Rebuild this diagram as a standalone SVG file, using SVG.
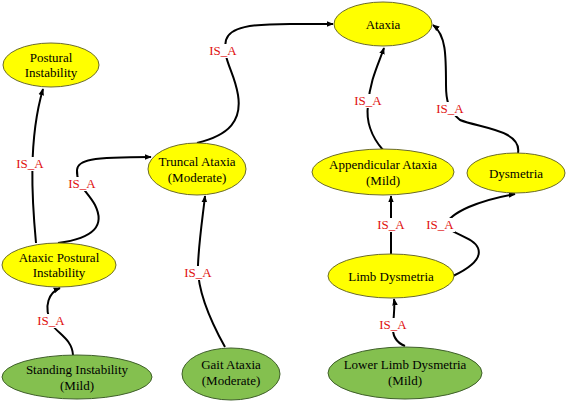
<svg xmlns="http://www.w3.org/2000/svg" width="567" height="401" viewBox="0 0 567 401">
<defs>
<marker id="arr" viewBox="0 0 10 10" refX="9" refY="5" markerWidth="7" markerHeight="7" orient="auto" markerUnits="userSpaceOnUse">
<path d="M0,1 L10,5 L0,9 z" fill="#000"/>
</marker>
<style>
.y{fill:#ffff00;stroke:#6b6b2a;stroke-width:1}
.g{fill:#84c04f;stroke:#3f5f2a;stroke-width:1}
text{font-family:"Liberation Serif","DejaVu Serif","Times New Roman",serif;font-size:13px;text-anchor:middle}
.t{fill:#000}
.e{fill:none;stroke:#000;stroke-width:2;marker-end:url(#arr)}
.l{fill:#e01010}
.b{fill:#fff}
</style>
</defs>
<rect width="567" height="401" fill="#fff"/>
<g id="connectors">
<path class="e" d="M36,243 C32,200 28,140 43,89"/>
<path class="e" d="M58,243 C95,238 105,225 95,205 C88,192 76,185 77,170 C78,160 90,157 151,157"/>
<path class="e" d="M197,143 C230,135 242,120 238,95 C234,70 222,60 226,40 C230,27 250,24 290,24 L333,24"/>
<path class="e" d="M225,347 C210,320 197,290 198,265 C199,240 203,215 205,196"/>
<path class="e" d="M383,150 C370,135 366,120 368,105 C370,80 378,65 384,48"/>
<path class="e" d="M518,153 C522,130 480,128 460,120 C448,110 446,100 446,85 C446,55 446,35 433,25"/>
<path class="e" d="M391,254 L391,196"/>
<path class="e" d="M453,276 C470,268 482,258 478,248 C474,238 455,235 445,226 C450,212 480,200 515,194"/>
<path class="e" d="M73,355 C72,340 60,335 52,325 C42,305 50,292 60,288"/>
<path class="e" d="M405,346 C395,342 392,335 393,325 C394,315 395,305 394,299"/>
<rect class="b" x="15" y="157" width="30" height="14"/><text class="l" x="30" y="168">IS_A</text>
<rect class="b" x="67" y="177" width="30" height="14"/><text class="l" x="82" y="188">IS_A</text>
<rect class="b" x="208" y="44" width="30" height="14"/><text class="l" x="223" y="55">IS_A</text>
<rect class="b" x="183" y="266" width="30" height="14"/><text class="l" x="198" y="277">IS_A</text>
<rect class="b" x="353" y="94" width="30" height="14"/><text class="l" x="368" y="105">IS_A</text>
<rect class="b" x="435" y="102" width="30" height="14"/><text class="l" x="450" y="113">IS_A</text>
<rect class="b" x="376" y="218" width="30" height="14"/><text class="l" x="391" y="229">IS_A</text>
<rect class="b" x="425" y="218" width="30" height="14"/><text class="l" x="440" y="229">IS_A</text>
<rect class="b" x="36" y="314" width="30" height="14"/><text class="l" x="51" y="325">IS_A</text>
<rect class="b" x="378" y="318" width="30" height="14"/><text class="l" x="393" y="329">IS_A</text>
</g>
<g id="ataxia"><ellipse class="y" cx="383" cy="24" rx="49" ry="22"/><text class="t" x="383" y="29">Ataxia</text></g>
<g id="postural-instability"><ellipse class="y" cx="51" cy="65" rx="48" ry="22"/><text class="t" x="51" y="62">Postural</text><text class="t" x="51" y="77">Instability</text></g>
<g id="truncal-ataxia"><ellipse class="y" cx="197" cy="169" rx="49" ry="26"/><text class="t" x="197" y="166">Truncal Ataxia</text><text class="t" x="197" y="182">(Moderate)</text></g>
<g id="appendicular-ataxia"><ellipse class="y" cx="383" cy="172" rx="71" ry="23"/><text class="t" x="383" y="169">Appendicular Ataxia</text><text class="t" x="383" y="185">(Mild)</text></g>
<g id="dysmetria"><ellipse class="y" cx="516" cy="173" rx="49" ry="20"/><text class="t" x="516" y="178">Dysmetria</text></g>
<g id="ataxic-postural-instability"><ellipse class="y" cx="59" cy="265" rx="57" ry="22"/><text class="t" x="59" y="262">Ataxic Postural</text><text class="t" x="59" y="277">Instability</text></g>
<g id="limb-dysmetria"><ellipse class="y" cx="391" cy="276" rx="63" ry="22"/><text class="t" x="391" y="281">Limb Dysmetria</text></g>
<g id="standing-instability"><ellipse class="g" cx="77" cy="377" rx="75" ry="22"/><text class="t" x="77" y="374">Standing Instability</text><text class="t" x="77" y="390">(Mild)</text></g>
<g id="gait-ataxia"><ellipse class="g" cx="231" cy="374" rx="49" ry="26"/><text class="t" x="231" y="369">Gait Ataxia</text><text class="t" x="231" y="385">(Moderate)</text></g>
<g id="lower-limb-dysmetria"><ellipse class="g" cx="405" cy="373" rx="77" ry="26"/><text class="t" x="405" y="369">Lower Limb Dysmetria</text><text class="t" x="405" y="385">(Mild)</text></g>
</svg>
